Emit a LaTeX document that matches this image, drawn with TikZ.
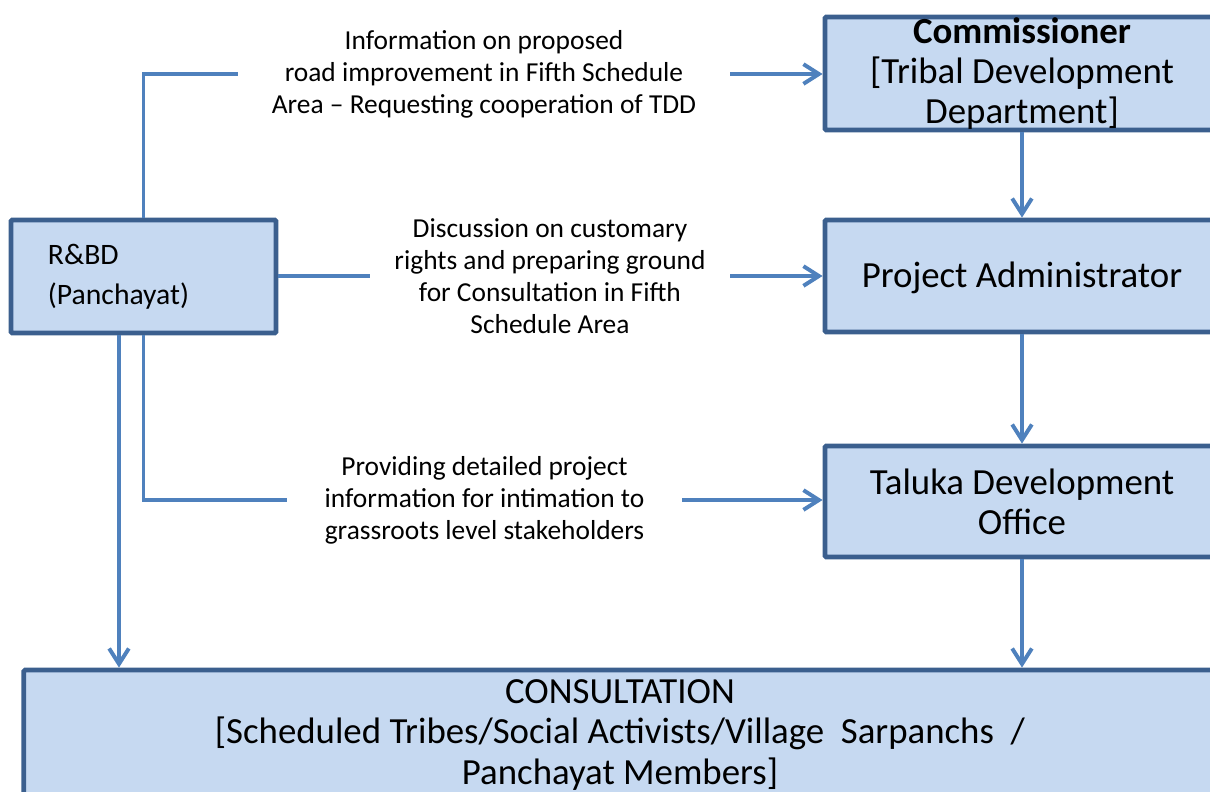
\documentclass[tikz,border=0pt]{standalone}
\usepackage{fontspec}
\setmainfont{Carlito}
\usetikzlibrary{arrows.meta}
\definecolor{boxfill}{HTML}{C6D9F1}
\definecolor{boxline}{HTML}{3B5F8E}
\definecolor{linkblue}{HTML}{4F81BD}

\begin{document}
\begin{tikzpicture}[x=0.025cm, y=-0.025cm,
  office/.style={draw=boxline, fill=boxfill, line width=3.4pt, rounded corners=1pt, inner sep=0pt, align=center, font=\fontsize{26.2}{28.5}\selectfont},
  note/.style={inner sep=0pt, align=center, font=\fontsize{19.5}{22.8}\selectfont},
  link/.style={draw=linkblue, line width=2.8pt},
  arr/.style={link, -{Straight Barb[length=11pt, width=14pt]}}]
\useasboundingbox (0,0) rectangle (1210,791);
\clip (0,0) rectangle (1210,791);
\node[office, minimum width=9.85cm, minimum height=2.825cm] (comm) at (1022,73.5) {\textbf{Commissioner}\\{[}Tribal Development\\Department]};
\node[office, minimum width=9.85cm, minimum height=2.8cm, text depth=0.06cm] (pa) at (1022,276) {Project Administrator};
\node[office, minimum width=9.85cm, minimum height=2.775cm] (tdo) at (1022,501.5) {Taluka Development\\Office};
\node[office, minimum height=2.825cm, text width=4.775cm, inner xsep=0.925cm, align=left, font=\fontsize{21.1}{28.5}\selectfont] (rbd) at (143.5,276.5) {R\&BD\\(Panchayat)};
\node[office, minimum width=29.8cm, minimum height=3.25cm] (consult) at (620,735) {CONSULTATION\\{[}Scheduled Tribes/Social Activists/Village~~Sarpanchs~~/\\Panchayat Members]};
\node[note, minimum width=12.3cm] (info) at (484,74) {Information on proposed\\road improvement in Fifth Schedule\\Area -- Requesting cooperation of TDD};
\node[note, minimum width=9cm] (disc) at (550,276) {Discussion on customary\\rights and preparing ground\\for Consultation in Fifth\\Schedule Area};
\node[note, minimum width=9.875cm] (prov) at (484.5,500) {Providing detailed project\\information for intimation to\\grassroots level stakeholders};
\draw[link] (rbd.north) |- (info.west);
\draw[arr] (info.east) -- (info.east -| comm.west);
\draw[link] (rbd.east |- disc.west) -- (disc.west);
\draw[arr] (disc.east) -- (disc.east -| pa.west);
\draw[link] (rbd.south) |- (prov.west);
\draw[arr] (prov.east) -- (prov.east -| tdo.west);
\draw[arr] ([xshift=-0.6125cm]rbd.south) -- ([xshift=-0.6125cm]rbd.south |- consult.north);
\draw[arr] (comm.south) -- (pa.north);
\draw[arr] (pa.south) -- (tdo.north);
\draw[arr] (tdo.south) -- (tdo.south |- consult.north);
\end{tikzpicture}
\end{document}
